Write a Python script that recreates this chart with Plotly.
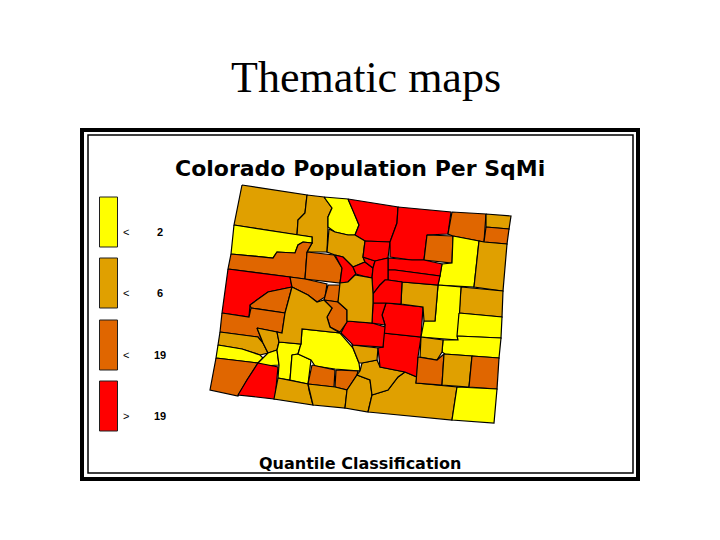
import plotly.graph_objects as go

# county outlines, in picture pixels
moffat = [(242,185),(307,195),(305,213),(298,220),(297,235),(234,225)]
routt = [(307,195),(324,197),(332,208),(328,217),(328,227),(327,252),(307,252),(312,243),(312,237),(297,235),(298,220),(305,213)]
jackson = [(324,197),(348,199),(353,210),(359,225),(355,235),(348,235),(335,232),(328,227),(328,217),(332,208)]
rio_blanco = [(234,225),(297,235),(312,237),(312,243),(303,242),(298,245),(295,253),(277,252),(273,258),(231,254)]
garfield = [(231,254),(273,258),(277,252),(295,253),(298,245),(303,242),(312,243),(307,252),(305,279),(228,269)]
eagle = [(307,252),(334,255),(342,268),(340,283),(305,279)]
mesa = [(228,269),(290,277),(292,287),(268,292),(250,305),(249,317),(222,313)]
delta = [(250,305),(268,292),(292,287),(285,313),(251,308)]
montrose = [(222,313),(249,317),(251,308),(285,313),(282,333),(257,328),(263,343),(258,337),(220,332)]
san_miguel = [(220,332),(258,337),(263,343),(268,353),(260,355),(242,349),(218,345)]
ouray = [(257,328),(277,332),(279,342),(277,350),(268,353),(263,343)]
dolores = [(218,345),(242,349),(260,355),(263,358),(258,363),(216,358)]
san_juan = [(268,353),(277,350),(279,365),(263,366),(258,363),(263,358)]
hinsdale = [(279,342),(301,344),(298,354),(292,355),(290,380),(278,378),(279,365),(277,350)]
mineral = [(292,355),(298,354),(311,360),(308,384),(290,380)]
saguache = [(302,329),(340,333),(353,348),(359,363),(360,371),(335,369),(315,366),(311,360),(298,354),(301,344)]
rio_grande = [(312,365),(335,370),(334,387),(308,384)]
alamosa = [(336,370),(358,371),(357,375),(347,390),(335,387)]
montezuma = [(216,358),(258,363),(247,380),(238,396),(210,390)]
la_plata = [(258,363),(278,367),(275,399),(238,395),(247,380)]
archuleta = [(278,378),(308,384),(309,390),(313,405),(274,399)]
conejos = [(308,384),(335,387),(347,390),(345,408),(313,405),(309,390)]
costilla = [(347,390),(357,375),(362,377),(370,380),(372,395),(368,412),(345,408)]
las_animas = [(368,412),(372,395),(388,390),(398,377),(405,372),(417,377),(416,383),(457,387),(452,420)]
huerfano = [(360,371),(362,363),(377,360),(380,367),(405,372),(398,377),(388,390),(372,395),(370,380),(357,375)]
custer = [(353,348),(352,345),(378,348),(377,360),(362,363),(359,363)]
pueblo = [(383,333),(421,337),(418,357),(417,377),(405,372),(380,367),(378,348),(383,347)]
el_paso = [(386,303),(423,307),(421,337),(383,333),(385,325),(382,315)]
fremont = [(347,321),(372,323),(385,327),(383,347),(353,345),(341,333)]
teller = [(373,303),(386,303),(382,315),(385,325),(372,323)]
larimer = [(348,199),(398,207),(397,223),(390,242),(365,241),(355,235),(359,225),(353,210)]
grand = [(329,229),(335,232),(348,235),(355,235),(365,241),(363,257),(365,262),(353,267),(343,257),(335,255),(327,252)]
clear_creek = [(335,255),(343,257),(353,267),(356,274),(348,282),(340,283),(342,268)]
gilpin = [(353,267),(365,262),(373,268),(372,278),(363,276),(356,274)]
broomfield = [(363,257),(375,261),(373,268),(365,262)]
boulder = [(365,241),(390,242),(388,258),(375,261),(363,257)]
weld = [(398,207),(451,212),(448,234),(427,235),(424,260),(412,260),(390,257),(390,242),(397,223)]
morgan = [(427,235),(453,236),(452,263),(424,260)]
logan = [(452,212),(486,214),(484,242),(453,236),(448,234)]
sedgwick = [(486,214),(511,216),(509,229),(486,227)]
phillips = [(486,227),(509,229),(507,244),(484,242)]
washington = [(453,236),(479,241),(474,287),(438,285),(442,264),(452,263)]
yuma = [(479,241),(484,242),(507,244),(503,291),(474,287)]
kit_carson = [(461,287),(503,291),(502,317),(459,313)]
arapahoe = [(438,285),(461,287),(458,340),(421,337),(424,321),(435,321)]
cheyenne = [(459,313),(502,317),(501,338),(457,336)]
kiowa = [(457,336),(501,338),(499,358),(472,356),(445,354),(442,352),(443,340),(458,340)]
elbert = [(402,282),(438,285),(435,321),(424,321),(423,307),(401,304)]
crowley = [(421,337),(443,340),(442,352),(437,360),(420,357)]
otero = [(418,357),(437,360),(444,354),(442,385),(416,383)]
bent = [(444,354),(472,356),(469,387),(442,385)]
prowers = [(472,356),(499,358),(497,389),(469,387)]
baca = [(457,387),(497,389),(494,423),(452,420)]
adams = [(388,258),(412,260),(424,260),(442,264),(440,276),(395,270),(388,270)]
arap_west = [(388,270),(395,270),(440,276),(438,285),(402,282),(388,280)]
jefferson = [(375,261),(388,258),(388,280),(385,280),(380,285),(373,294),(372,278),(373,268)]
douglas = [(388,280),(402,282),(401,304),(386,303),(373,303),(373,294),(380,285),(385,280)]
pitkin = [(290,277),(305,279),(327,284),(325,297),(317,302),(308,295),(292,287)]
lake = [(328,285),(342,285),(338,302),(324,300)]
chaffee = [(324,300),(338,302),(347,310),(347,322),(340,332),(330,327),(327,317),(332,308)]
gunnison = [(292,287),(308,295),(317,302),(324,300),(332,308),(327,317),(330,327),(340,333),(302,329),(301,344),(279,342),(277,332),(282,333),(285,313)]
park = [(340,283),(348,282),(355,275),(372,278),(373,294),(373,303),(372,323),(347,321),(347,310),(338,302)]

counties = [moffat, routt, jackson, rio_blanco, garfield, eagle, mesa, delta, montrose,
            san_miguel, ouray, dolores, san_juan, hinsdale, mineral, saguache, rio_grande,
            alamosa, montezuma, la_plata, archuleta, conejos, costilla, las_animas, huerfano,
            custer, pueblo, el_paso, fremont, teller, larimer, grand, clear_creek, gilpin,
            broomfield, boulder, weld, morgan, logan, sedgwick, phillips, washington, yuma,
            kit_carson, arapahoe, cheyenne, kiowa, elbert, crowley, otero, bent, prowers,
            baca, adams, arap_west, jefferson, douglas, pitkin, lake, chaffee, gunnison, park]

# quantile class of each county, 0 lowest .. 3 highest
county_class = [1, 1, 0, 0, 2, 2, 3, 2, 2,
                1, 1, 0, 0, 0, 0, 0, 2,
                2, 2, 3, 1, 1, 1, 1, 1,
                1, 3, 3, 3, 3, 3, 1, 3, 3,
                3, 3, 3, 2, 2, 1, 2, 0, 1,
                1, 0, 0, 0, 1, 1, 2, 1, 2,
                0, 3, 3, 3, 3, 2, 2, 2, 1, 1]

class_colors = ["#FFFF00", "#E0A000", "#E06600", "#FF0000"]
class_signs = ["<", "<", "<", ">"]
class_limits = ["2", "6", "19", "19"]

fig = go.Figure()

for shape, cls in zip(counties, county_class):
    xs = [p[0] for p in shape] + [shape[0][0]]
    ys = [p[1] for p in shape] + [shape[0][1]]
    fig.add_trace(go.Scatter(x=xs, y=ys, mode="lines", fill="toself",
                             fillcolor=class_colors[cls],
                             line=dict(color="#000000", width=1.2),
                             hoverinfo="skip", showlegend=False))

# frame
fig.add_shape(type="rect", x0=82, y0=130, x1=638, y1=479,
              line=dict(color="black", width=4))
fig.add_shape(type="rect", x0=88, y0=135, x1=633, y1=473,
              line=dict(color="black", width=1.5))

# legend
swatch_top = [197, 258, 320, 381]
for i in range(4):
    fig.add_shape(type="rect", x0=99.5, x1=117.5, y0=swatch_top[i], y1=swatch_top[i] + 50,
                  fillcolor=class_colors[i], line=dict(color="#202020", width=1))
    fig.add_annotation(x=126, y=swatch_top[i] + 35, text=class_signs[i], showarrow=False,
                       font=dict(family="Liberation Sans", size=11, color="black"))
    fig.add_annotation(x=160, y=swatch_top[i] + 35, text=class_limits[i], showarrow=False,
                       font=dict(family="Liberation Sans", size=11, color="black", weight="bold"))

fig.add_annotation(x=366, y=77, text="Thematic maps", showarrow=False,
                   font=dict(family="Liberation Serif", size=44, color="black"))
fig.add_annotation(x=360, y=168, text="Colorado Population Per SqMi", showarrow=False,
                   font=dict(family="DejaVu Sans", size=22, color="black", weight="bold"))
fig.add_annotation(x=360, y=463, text="Quantile Classification", showarrow=False,
                   font=dict(family="DejaVu Sans", size=16, color="black", weight="bold"))

fig.update_xaxes(range=[0, 720], visible=False)
fig.update_yaxes(range=[540, 0], visible=False)
fig.update_layout(width=720, height=540, margin=dict(l=0, r=0, t=0, b=0),
                  plot_bgcolor="white", paper_bgcolor="white")

fig.write_html("out.html", config={"displayModeBar": False},
               post_script="document.body.style.margin='0';")
